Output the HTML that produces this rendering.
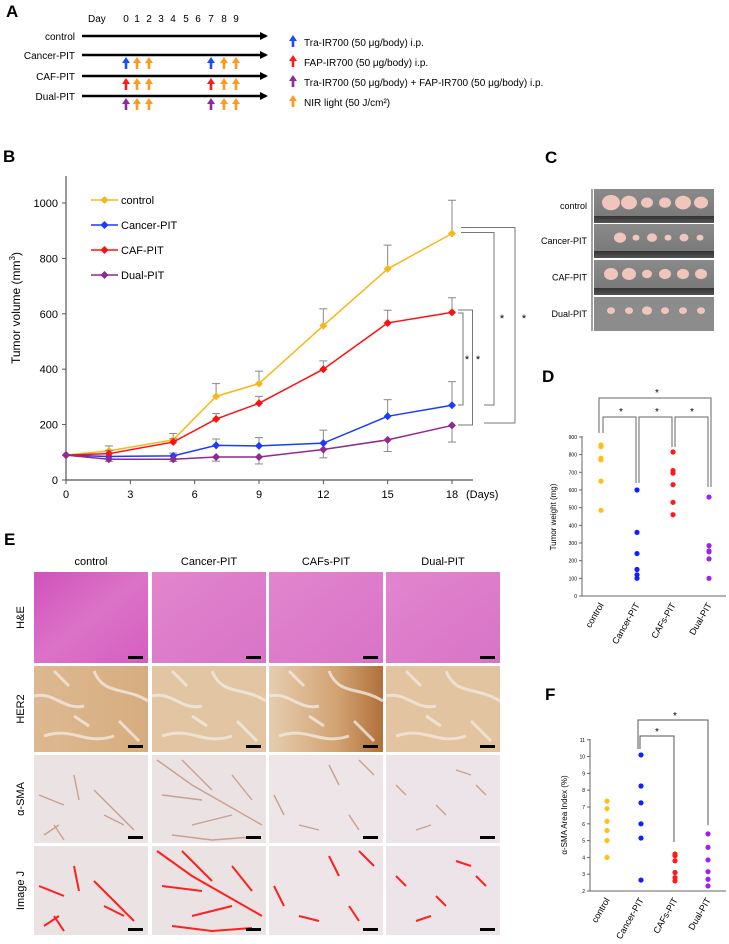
<!DOCTYPE html>
<html><head><meta charset="utf-8"><style>
html,body{margin:0;padding:0;background:#fff;}
svg{display:block;font-family:"Liberation Sans",Arial,sans-serif;}
</style></head><body>
<svg id="fig" width="729" height="944" viewBox="0 0 729 944" xmlns="http://www.w3.org/2000/svg">
<defs>
<marker id="ah" markerWidth="8" markerHeight="8" refX="6" refY="4" orient="auto" markerUnits="userSpaceOnUse"><path d="M0,0 L8,4 L0,8 Z" fill="#000"/></marker>
<linearGradient id="he" x1="0" y1="0" x2="1" y2="1"><stop offset="0" stop-color="#cf52bb"/><stop offset="0.5" stop-color="#dc72c8"/><stop offset="1" stop-color="#d45ec0"/></linearGradient>
<linearGradient id="he2" x1="0" y1="0" x2="1" y2="1"><stop offset="0" stop-color="#e285ce"/><stop offset="1" stop-color="#d874c6"/></linearGradient>
<linearGradient id="her" x1="0" y1="0" x2="1" y2="0"><stop offset="0" stop-color="#ddb890"/><stop offset="1" stop-color="#d6ad80"/></linearGradient>
<linearGradient id="her3" x1="0" y1="0" x2="1" y2="0"><stop offset="0" stop-color="#e6cdb0"/><stop offset="0.6" stop-color="#d2a372"/><stop offset="1" stop-color="#b0703a"/></linearGradient>
<linearGradient id="photo" x1="0" y1="0" x2="0" y2="1"><stop offset="0" stop-color="#8a8a8a"/><stop offset="0.8" stop-color="#7a7a7a"/><stop offset="0.8" stop-color="#333"/><stop offset="1" stop-color="#555"/></linearGradient>
</defs>

<g>
<text x="6" y="17" font-size="17" font-weight="bold">A</text>
<text x="88" y="22" font-size="10">Day</text>
<g id="aDays" font-size="10" text-anchor="middle"></g>
<g id="aRows"></g>
<g id="aLegend" font-size="10"></g>
</g>

<g>
<text x="3" y="162" font-size="17" font-weight="bold">B</text>
<text transform="translate(20,308) rotate(-90)" text-anchor="middle" font-size="12">Tumor volume (mm<tspan font-size="8" dy="-5">3</tspan><tspan dy="5">)</tspan></text>
<g id="bChart"></g>
</g>

<g>
<text x="545" y="163" font-size="17" font-weight="bold">C</text>
<g id="cPhotos" font-size="9" text-anchor="end"></g>
</g>

<g>
<text x="542" y="382" font-size="17" font-weight="bold">D</text>
<text transform="translate(556,517) rotate(-90)" text-anchor="middle" font-size="8">Tumor weight (mg)</text>
<g id="dChart"></g>
</g>

<g>
<text x="4" y="545" font-size="17" font-weight="bold">E</text>
<g id="eGrid"></g>
</g>

<g>
<text x="545" y="700" font-size="17" font-weight="bold">F</text>
<text transform="translate(567,815) rotate(-90)" text-anchor="middle" font-size="8">α-SMA Area Index (%)</text>
<g id="fChart"></g>
</g>
</svg>

<script>
// ---------- Panel B data ----------
const bDays = [0, 2, 5, 7, 9, 12, 15, 18];
const bSeriesNames = ["control", "Cancer-PIT", "CAF-PIT", "Dual-PIT"];
const bControl = [90, 105, 145, 302, 348, 557, 762, 890];
const bControlErr = [0, 18, 23, 46, 45, 61, 86, 120];
const bCancer = [90, 85, 87, 125, 123, 133, 230, 270];
const bCancerErr = [0, 10, 10, 23, 30, 47, 60, 85];
const bCaf = [90, 95, 137, 220, 277, 400, 567, 605];
const bCafErr = [0, 12, 12, 20, 25, 30, 46, 53];
const bDual = [90, 75, 75, 83, 83, 110, 145, 197];
const bDualErr = [0, 8, 8, 15, 25, 30, 42, 60];
const bYTicks = [0, 200, 400, 600, 800, 1000];
const bXTicks = [0, 3, 6, 9, 12, 15, 18];
// ---------- Panel D data ----------
const dGroups = ["control", "Cancer-PIT", "CAFs-PIT", "Dual-PIT"];
const dControl = [855, 845, 780, 770, 650, 485];
const dCancer = [600, 360, 240, 150, 120, 100];
const dCaf = [815, 710, 695, 630, 530, 460];
const dDual = [560, 285, 255, 250, 210, 100];
const dYTicks = [0, 100, 200, 300, 400, 500, 600, 700, 800, 900];
// ---------- Panel F data ----------
const fGroups = ["control", "Cancer-PIT", "CAFs-PIT", "Dual-PIT"];
const fControl = [7.35, 6.9, 6.15, 5.6, 5.0, 4.0];
const fCancer = [10.1, 8.25, 7.25, 6.0, 5.15, 2.65];
const fCaf = [4.2, 4.1, 3.8, 3.1, 2.8, 2.6];
const fDual = [5.4, 4.6, 3.85, 3.15, 2.7, 2.3];
const fYTicks = [2, 3, 4, 5, 6, 7, 8, 9, 10, 11];

const NS = "http://www.w3.org/2000/svg";
function mk(tag, attrs, parent, txt) {
  const e = document.createElementNS(NS, tag);
  for (const k in attrs) e.setAttribute(k, attrs[k]);
  if (txt !== undefined) e.textContent = txt;
  parent.appendChild(e);
  return e;
}

// ---------- Panel A ----------
(function(){
  const days = document.getElementById('aDays');
  const dayX = [126,137,149,161,173,186,198,211,224,236];
  dayX.forEach((x,i)=>{
    const t = mk('text',{x:x,y:22},days,String(i));
    
    
  });
  const rows = document.getElementById('aRows');
  const names = ["control","Cancer-PIT","CAF-PIT","Dual-PIT"];
  const ys = [36,55,76,96];
  const drugCol = [null,"#1a4cff","#ff1a1a","#8e2a9c"];
  const orange = "#ff9a1a";
  function arrow(x,y,c,parent,name){
    const g = mk('g',{},parent);
    
    
    mk('rect',{x:x-1.3,y:y+3,width:2.6,height:7,fill:c},g);
    mk('path',{d:`M${x-4},${y+4} L${x},${y-2} L${x+4},${y+4} Z`,fill:c},g);
  }
  names.forEach((n,i)=>{
    const y = ys[i];
    const t = mk('text',{x:75,y:y+4,'font-size':10,'text-anchor':'end'},rows,n);
    
    
    const l = mk('line',{x1:82,y1:y,x2:266,y2:y,stroke:'#000','stroke-width':2.4,'marker-end':'url(#ah)'},rows);
    
    
    if (drugCol[i]) {
      [[0,drugCol[i]],[1,orange],[2,orange],[7,drugCol[i]],[8,orange],[9,orange]].forEach(([d,c])=>{
        arrow(dayX[d],y+4,c,rows,'dose-arrow-'+n.toLowerCase()+'-day'+d);
      });
    }
  });
  const leg = document.getElementById('aLegend');
  const items = [["#1a4cff","Tra-IR700 (50 μg/body) i.p."],["#ff1a1a","FAP-IR700 (50 μg/body) i.p."],["#8e2a9c","Tra-IR700 (50 μg/body) + FAP-IR700 (50 μg/body) i.p."],[orange,"NIR light (50 J/cm²)"]];
  items.forEach((it,i)=>{
    const y = 42 + i*20;
    arrow(293,y-5,it[0],leg,'legend-arrow-'+i);
    const t = mk('text',{x:304,y:y+4},leg,it[1]);
    
    
  });
})();

// ---------- Panel B ----------
(function(){
  const g = document.getElementById('bChart');
  const x0 = 66, x18 = 452;
  const xS = d => x0 + (x18-x0)*d/18;
  const yS = v => 480 - v*0.277;
  const ax = mk('path',{d:`M${x0},176 L${x0},480 L473,480`,stroke:'#555',fill:'none','stroke-width':1.2},g);
  
  
  bYTicks.forEach(v=>{
    mk('line',{x1:x0-4,y1:yS(v),x2:x0,y2:yS(v),stroke:'#555'},g);
    const t = mk('text',{x:x0-8,y:yS(v)+4,'font-size':11,'text-anchor':'end'},g,String(v));
    
    
  });
  bXTicks.forEach(v=>{
    mk('line',{x1:xS(v),y1:480,x2:xS(v),y2:484,stroke:'#555'},g);
    const t = mk('text',{x:xS(v),y:498,'font-size':11,'text-anchor':'middle'},g,String(v));
    
    
  });
  const dl = mk('text',{x:466,y:498,'font-size':11},g,'(Days)');
  
  
  const series = [[bControl,bControlErr,'#f7b718',1],[bCancer,bCancerErr,'#1a3cff',1],[bCaf,bCafErr,'#ff1010',1],[bDual,bDualErr,'#8e2a90',-1]];
  series.forEach((s,si)=>{
    const [vals,err,col,dir] = s;
    const sg = mk('g',{},g);
    
    
    vals.forEach((v,i)=>{
      if (err[i]>0){
        const ye = yS(v + dir*err[i]);
        mk('line',{x1:xS(bDays[i]),y1:yS(v),x2:xS(bDays[i]),y2:ye,stroke:'#888','stroke-width':1},sg);
        mk('line',{x1:xS(bDays[i])-4,y1:ye,x2:xS(bDays[i])+4,y2:ye,stroke:'#888','stroke-width':1},sg);
      }
    });
    const pts = vals.map((v,i)=>xS(bDays[i])+','+yS(v)).join(' ');
    const pl = mk('polyline',{points:pts,fill:'none',stroke:col,'stroke-width':1.5},sg);
    
    
    vals.forEach((v,i)=>{
      const x=xS(bDays[i]), y=yS(v);
      const p = mk('path',{d:`M${x},${y-4} L${x+4},${y} L${x},${y+4} L${x-4},${y} Z`,fill:col},sg);
      
      
    });
    const ly = 200 + si*25;
    mk('line',{x1:91,y1:ly,x2:118,y2:ly,stroke:col,'stroke-width':1.5},g);
    mk('path',{d:`M104.5,${ly-4} L108.5,${ly} L104.5,${ly+4} L100.5,${ly} Z`,fill:col},g);
    const lt = mk('text',{x:121,y:ly+4,'font-size':11},g,bSeriesNames[si]);
    
    
  });
  const br = [
    "M461,227.5 L515,227.5 L515,423 L484,423",
    "M461,232.5 L494,232.5 L494,405 L484,405",
    "M458,310 L472.5,310 L472.5,425 L458,425",
    "M458,313 L463,313 L463,405 L458,405"];
  br.forEach((d,i)=>{
    const p = mk('path',{d:d,fill:'none',stroke:'#777','stroke-width':1},g);
    
    
  });
  [[502,322],[524,322],[467,363],[478,363]].forEach((s,i)=>{
    const t = mk('text',{x:s[0],y:s[1],'font-size':11,'text-anchor':'middle'},g,'*');
    
    
  });
})();

// ---------- Panel C ----------
(function(){
  const g = document.getElementById('cPhotos');
  const rows = [["control",189,34],["Cancer-PIT",224,34],["CAF-PIT",260,35],["Dual-PIT",297,34]];
  const sizes = [[9,8,6,6,8,7],[6,3.5,5,3.5,4.5,3.5],[7,7,5,6,6,6],[4,4,5,4,4,4]];
  mk('line',{x1:592,y1:189,x2:592,y2:331,stroke:'#444'},g);
  rows.forEach((r,i)=>{
    const [n,y,h] = r;
    const t = mk('text',{x:587,y:y+h/2+3},g,n);
    
    
    const ph = mk('rect',{x:594,y:y,width:120,height:h,fill: i===3?'#8c8c8c':'url(#photo)'},g);
    
    
    sizes[i].forEach((s,j)=>{
      const cx = (i===1?620:611) + j*(i===1?16:18);
      mk('ellipse',{cx:cx,cy:y+h*0.4,rx:s,ry:s*0.85,fill:'#f0c6bc'},g);
    });
  });
})();

function dotPlot(gid, groups, arrays, ticks, yS, xs, axisX, axisY0, axisTop, colors, prefix){
  const g = document.getElementById(gid);
  mk('path',{d:`M${axisX},${axisTop} L${axisX},${axisY0} L726,${axisY0}`,stroke:'#666',fill:'none','stroke-width':1},g);
  ticks.forEach(v=>{
    mk('line',{x1:axisX-3,y1:yS(v),x2:axisX,y2:yS(v),stroke:'#666'},g);
    const t = mk('text',{x:axisX-5,y:yS(v)+2,'font-size':5,'text-anchor':'end'},g,String(v));
    
    
  });
  arrays.forEach((arr,gi)=>{
    const sg = mk('g',{},g);
    
    
    arr.forEach((v,i)=>{
      const c = mk('circle',{cx:xs[gi],cy:yS(v),r:2.6,fill:colors[gi]},sg);
      
      
    });
    const t = mk('text',{x:xs[gi]+3,y:axisY0+9,'font-size':9,'text-anchor':'end',transform:`rotate(-60 ${xs[gi]+3} ${axisY0+9})`},g,groups[gi]);
    
    
  });
  return g;
}
const grpColors = ['#ffbf1a','#1020ff','#ff1a1a','#a020f0'];

(function(){
  const yS = v => 596 - v*0.1767;
  const g = dotPlot('dChart', dGroups, [dControl,dCancer,dCaf,dDual], dYTicks, yS, [601,637,673,709], 582, 596, 436, grpColors, 'd');
  ["M599,433 L599,398 L711,398 L711,487","M603,433 L603,417 L636,417 L636,483","M639,483 L639,417 L672,417 L672,447","M675,447 L675,417 L708,417 L708,487"].forEach((d,i)=>{
    const p = mk('path',{d:d,fill:'none',stroke:'#666','stroke-width':1},g);
    
    
  });
  [[657,396],[621,415],[657,415],[692,415]].forEach((s,i)=>{
    const t = mk('text',{x:s[0],y:s[1],'font-size':10,'text-anchor':'middle'},g,'*');
    
    
  });
})();

(function(){
  const yS = v => 891 - (v-2)*16.8;
  const g = dotPlot('fChart', fGroups, [fControl,fCancer,fCaf,fDual], fYTicks, yS, [607,641,675,708], 590, 891, 739, grpColors, 'f');
  ["M638,749 L638,720 L708,720 L708,825","M640,749 L640,736 L674,736 L674,842"].forEach((d,i)=>{
    const p = mk('path',{d:d,fill:'none',stroke:'#555','stroke-width':1},g);
    
    
  });
  [[675,719],[657,735]].forEach((s,i)=>{
    const t = mk('text',{x:s[0],y:s[1],'font-size':10,'text-anchor':'middle'},g,'*');
    
    
  });
})();

(function(){
  const g = document.getElementById('eGrid');
  const cols = ["control","Cancer-PIT","CAFs-PIT","Dual-PIT"];
  const colX = [34,152,269,386];
  const W = 114;
  const rows = [["H&E",572,91],["HER2",666,86],["α-SMA",755,88],["Image J",846,89]];
  cols.forEach((c,i)=>{
    const t = mk('text',{x:colX[i]+W/2,y:565,'font-size':11,'text-anchor':'middle'},g,c);
    
    
  });
  const fills = [["url(#he)","url(#he2)","url(#he2)","url(#he2)"],["url(#her)","#e2c6a4","url(#her3)","#e2c4a0"],["#ebe2e4","#ebe2e4","#ede5e8","#ece4e8"],["#ebe2e4","#ebe2e4","#ede5e8","#ece4e8"]];
  const streaks = [
    "M5,40 L30,50 M20,70 L30,85 M60,35 L80,55 L100,75 M70,60 L90,70 M40,20 L45,45 M10,80 L25,70",
    "M5,5 L40,30 L75,50 L110,70 M30,5 L60,35 M10,40 L50,45 M40,70 L80,60 M20,80 L60,85 L100,82 M80,20 L100,45",
    "M5,40 L15,60 M60,10 L70,30 M90,5 L105,20 M30,70 L50,75 M80,60 L90,75",
    "M10,30 L20,40 M50,50 L60,60 M90,30 L100,40 M30,75 L45,70 M70,15 L85,20"];
  rows.forEach((r,ri)=>{
    const [n,y,h] = r;
    const t = mk('text',{x:0,y:0,'font-size':11,'text-anchor':'middle',transform:`translate(24,${y+h/2}) rotate(-90)`},g,n);
    
    
    cols.forEach((c,ci)=>{
      const cell = mk('g',{transform:`translate(${colX[ci]},${y})`},g);
      
      
      mk('rect',{x:0,y:0,width:W,height:h,fill:fills[ri][ci]},cell);
      if (ri===1){
        mk('path',{d:"M0,30 C20,25 30,45 50,40 M60,5 C70,30 90,20 114,35 M10,70 C40,60 50,80 80,70 M20,5 L35,20 M85,55 L105,75 M40,50 L55,60",stroke:'#f1e8de','stroke-width':3,fill:'none',opacity:0.8},cell);
      }
      if (ri>=2){
        mk('path',{d:streaks[ci],stroke: ri===2?'#c9a08e':'#ff2020','stroke-width': ri===2?1.4:2,fill:'none'},cell);
      }
      mk('rect',{x:W-20,y:h-7,width:15,height:3,fill:'#000'},cell);
    });
  });
})();
</script>
</body></html>
